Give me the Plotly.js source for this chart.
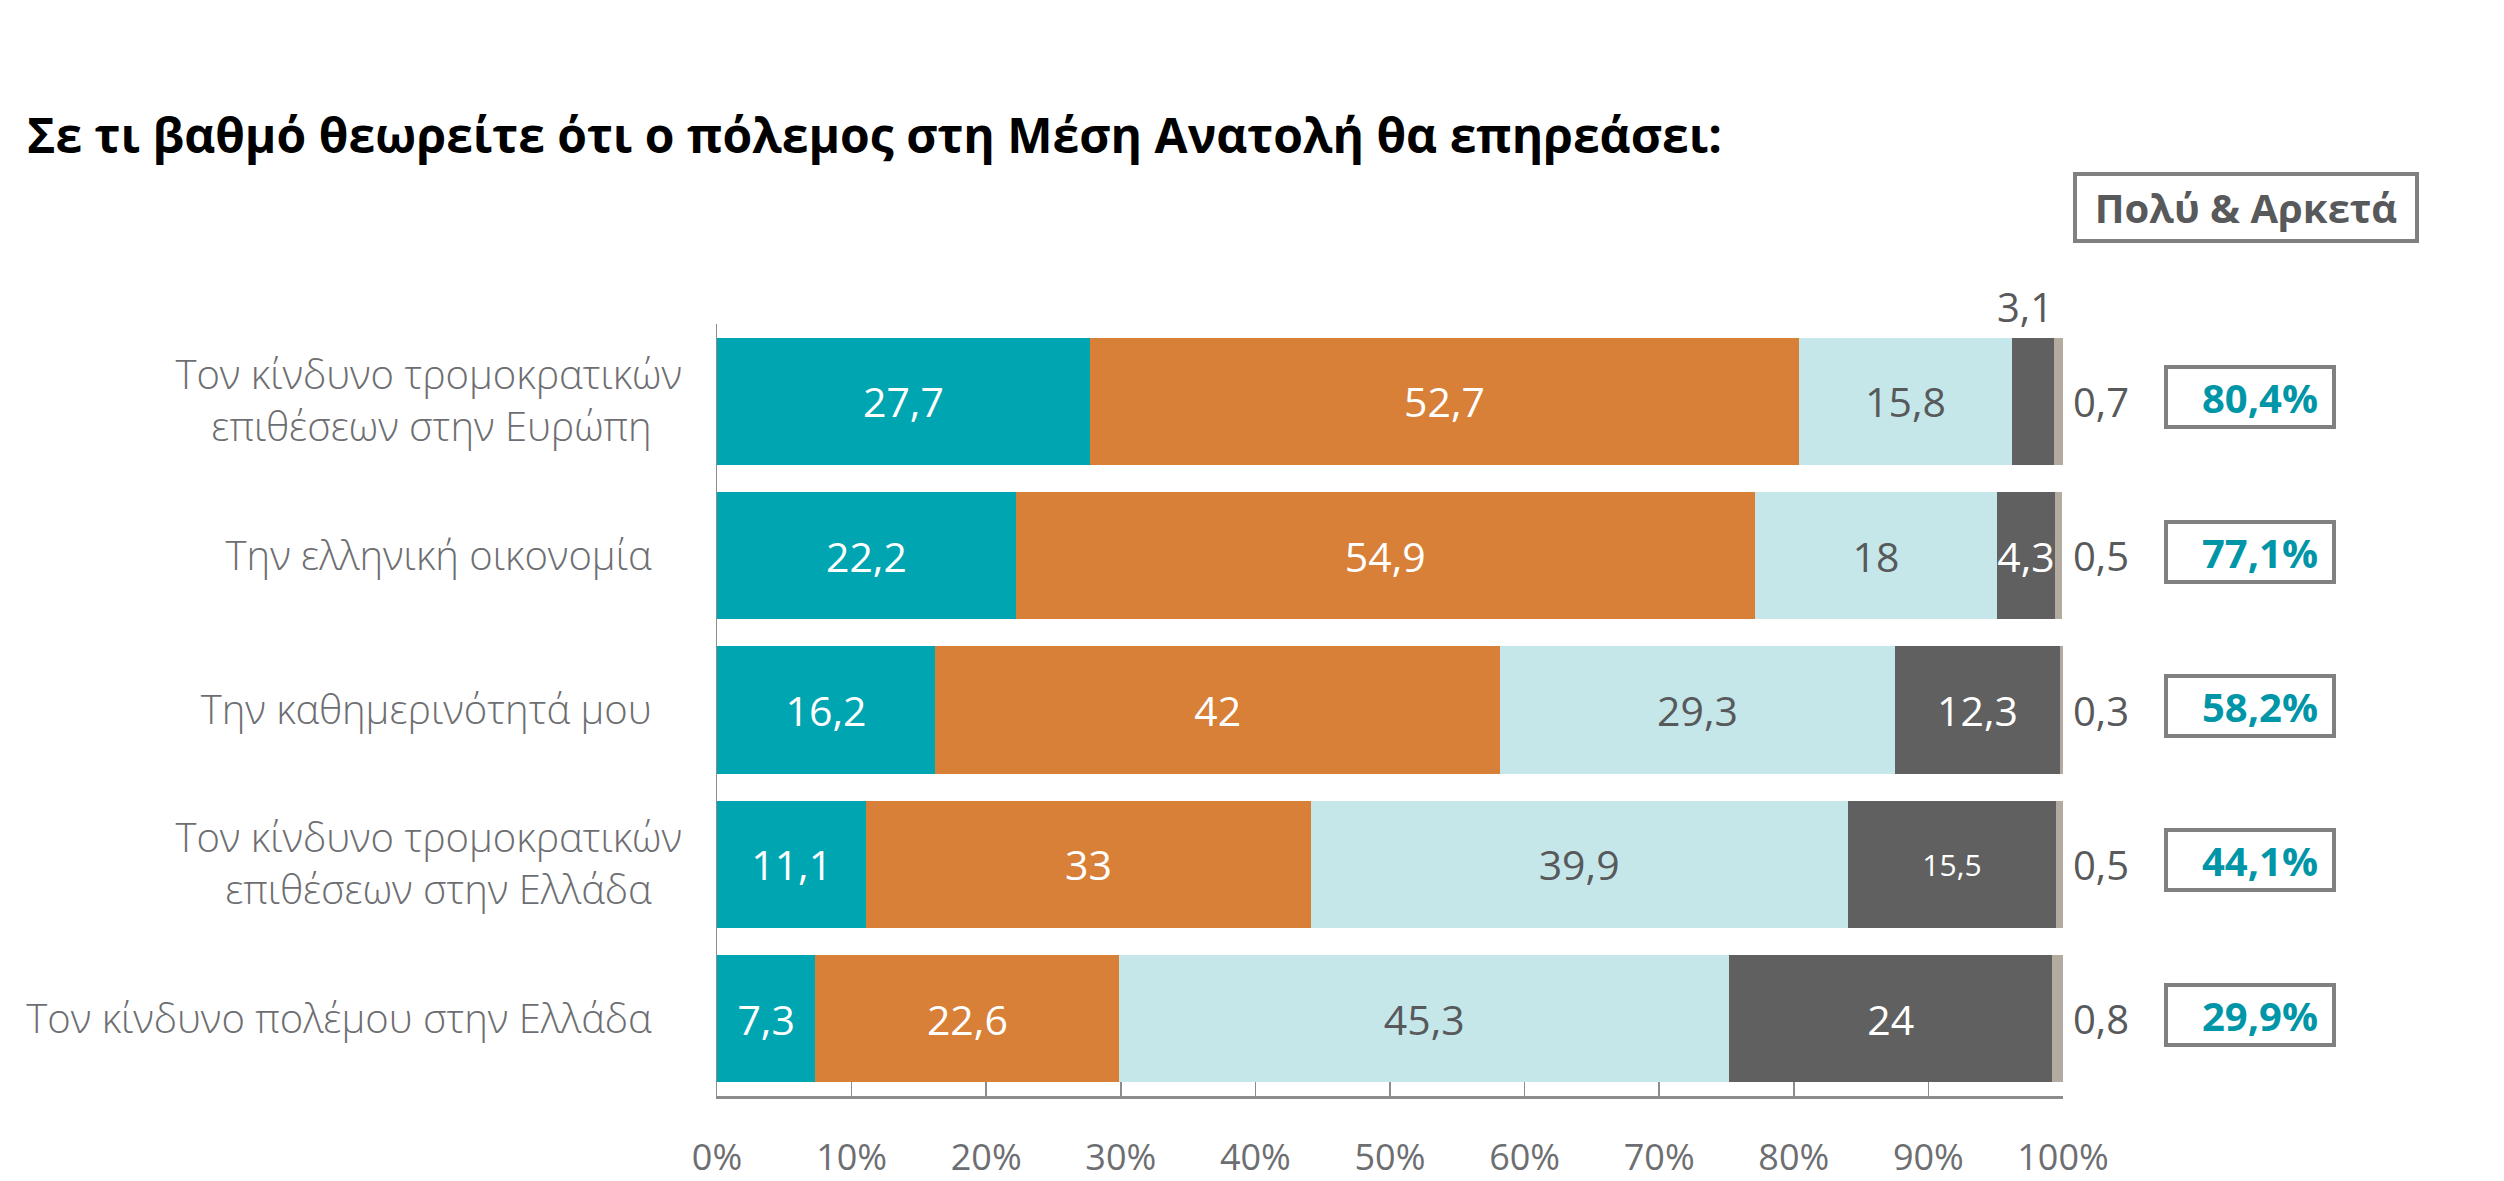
<!DOCTYPE html>
<html>
<head>
<meta charset="utf-8">
<script src="https://cdn.plot.ly/plotly-3.0.1.min.js"></script>
<style>
  html, body { margin: 0; padding: 0; background: #ffffff; }
  #chart { width: 2504px; height: 1181px; }
</style>
</head>
<body>
<div id="chart"></div>
<script>
// ---- Data ----
const categories = [
  "Τον κίνδυνο τρομοκρατικών επιθέσεων στην Ευρώπη",
  "Την ελληνική οικονομία",
  "Την καθημερινότητά μου",
  "Τον κίνδυνο τρομοκρατικών επιθέσεων στην Ελλάδα",
  "Τον κίνδυνο πολέμου στην Ελλάδα"
];
const tickLabels = [
  "Τον κίνδυνο τρομοκρατικών<br>επιθέσεων στην Ευρώπη\u2002\u00a0",
  "Την ελληνική οικονομία\u2002\u00a0",
  "Την καθημερινότητά μου\u2002\u00a0",
  "Τον κίνδυνο τρομοκρατικών<br>επιθέσεων στην Ελλάδα\u2002\u00a0",
  "Τον κίνδυνο πολέμου στην Ελλάδα\u2002\u00a0"
];
const seriesNames = ["Πολύ", "Αρκετά", "Λίγο", "Καθόλου", "ΔΓ/ΔΑ"];
const poly     = [27.7, 22.2, 16.2, 11.1, 7.3];
const arketa   = [52.7, 54.9, 42.0, 33.0, 22.6];
const ligo     = [15.8, 18.0, 29.3, 39.9, 45.3];
const katholou = [3.1, 4.3, 12.3, 15.5, 24.0];
const dkda     = [0.7, 0.5, 0.3, 0.5, 0.8];
const polyArketa = [80.4, 77.1, 58.2, 44.1, 29.9];
const xTicks = [0, 10, 20, 30, 40, 50, 60, 70, 80, 90, 100];
const xTickText = ["0%", "10%", "20%", "30%", "40%", "50%", "60%", "70%", "80%", "90%", "100%"];

// ---- Styles ----
const colors = ["#00A5B2", "#D98038", "#C5E7EA", "#606060", "#B3ABA0"];
const grayText = "#58595B";
const tealText = "#0096A7";
const FONT = "'Open Sans', 'Noto Sans', 'DejaVu Sans', sans-serif";

const fmt = v => String(v).replace('.', ',');

function barTrace(name, vals, color, textColor, texts, sizes) {
  return {
    type: 'bar', orientation: 'h', name: name,
    y: categories, x: vals,
    marker: { color: color, line: { width: 0 } },
    text: texts,
    textposition: 'inside',
    insidetextanchor: 'middle',
    textangle: 0,
    constraintext: 'none',
    cliponaxis: false,
    textfont: { family: FONT, color: textColor, size: sizes || 41 },
    hoverinfo: 'skip'
  };
}

const kathTexts = katholou.map((v, i) => i === 0 ? "" : fmt(v));
const kathSizes = katholou.map((v, i) => i === 3 ? 30 : 41);

const traces = [
  barTrace(seriesNames[0], poly, colors[0], "#ffffff", poly.map(fmt)),
  barTrace(seriesNames[1], arketa, colors[1], "#ffffff", arketa.map(fmt)),
  barTrace(seriesNames[2], ligo, colors[2], grayText, ligo.map(fmt)),
  barTrace(seriesNames[3], katholou, colors[3], "#ffffff", kathTexts, kathSizes),
  barTrace(seriesNames[4], dkda, colors[4], grayText, dkda.map(() => ""))
];

const annotations = [];
// small "Καθόλου" label above first bar
annotations.push({
  xref: 'x', yref: 'y',
  x: poly[0] + arketa[0] + ligo[0] + katholou[0] / 2,
  y: categories[0],
  text: fmt(katholou[0]),
  showarrow: false, yanchor: 'middle', yshift: 95, xshift: -8,
  font: { family: FONT, size: 40, color: grayText }
});
// ΔΓ/ΔΑ labels right of bars
categories.forEach((c, i) => {
  annotations.push({
    xref: 'x', yref: 'y', x: 100, y: c,
    text: fmt(dkda[i]),
    showarrow: false, xanchor: 'left', xshift: 8, yanchor: 'middle',
    font: { family: FONT, size: 40, color: grayText }
  });
  annotations.push({
    xref: 'x', yref: 'y', x: 100, y: c,
    text: "\u2002<b>" + fmt(polyArketa[i]) + "%</b>",
    showarrow: false, xanchor: 'left', xshift: 101, yanchor: 'middle', yshift: 4,
    width: 164, height: 56, align: 'center',
    bgcolor: '#ffffff', bordercolor: '#808080', borderwidth: 4, borderpad: 0,
    font: { family: FONT, size: 40, color: tealText }
  });
});
// header box
annotations.push({
  xref: 'x', yref: 'paper', x: 100, y: 1.151,
  text: "<b>Πολύ & Αρκετά</b>",
  showarrow: false, xanchor: 'left', xshift: 10, yanchor: 'middle',
  width: 338, height: 63, align: 'center',
  bgcolor: '#ffffff', bordercolor: '#808080', borderwidth: 4, borderpad: 0,
  font: { family: FONT, size: 40, color: grayText }
});

const layout = {
  width: 2504, height: 1181,
  paper_bgcolor: '#ffffff', plot_bgcolor: '#ffffff',
  margin: { l: 717, r: 441, t: 324, b: 85, pad: 0 },
  barmode: 'stack', bargap: 0.175,
  showlegend: false,
  font: { family: FONT, color: grayText },
  title: {
    text: "<b>Σε τι βαθμό θεωρείτε ότι ο πόλεμος στη Μέση Ανατολή θα επηρεάσει:</b>",
    x: 0.0108, xref: 'container', xanchor: 'left',
    y: 0.885, yref: 'container', yanchor: 'middle',
    font: { family: FONT, size: 48, color: '#000000' }
  },
  xaxis: {
    range: [0, 100], fixedrange: true,
    tickvals: xTicks, ticktext: xTickText,
    ticks: 'inside', ticklen: 14, tickwidth: 1.5, tickcolor: '#8c8c8c',
    showline: true, linecolor: '#8c8c8c', linewidth: 3,
    showgrid: false, zeroline: false,
    ticklabelstandoff: 28,
    tickfont: { family: FONT, size: 36, color: '#6d6e71' }
  },
  yaxis: {
    type: 'category', categoryorder: 'array', categoryarray: categories,
    autorange: 'reversed', fixedrange: true,
    tickvals: categories, ticktext: tickLabels,
    showline: true, linecolor: '#8c8c8c', linewidth: 1,
    ticks: '', showgrid: false, zeroline: false,
    ticklabelstandoff: 26,
    tickfont: { family: FONT, size: 40, color: '#6d6e71', weight: 300 }
  },
  annotations: annotations
};

Plotly.newPlot('chart', traces, layout, { staticPlot: true, displayModeBar: false });
</script>
</body>
</html>
